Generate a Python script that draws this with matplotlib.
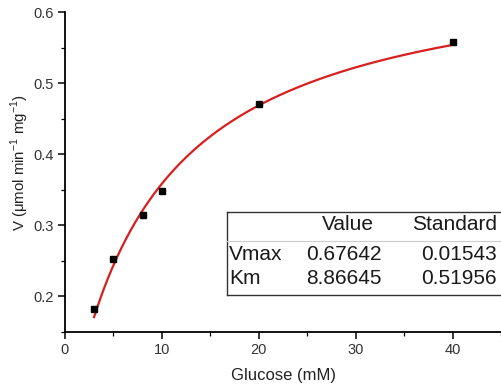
import numpy as np
import matplotlib
matplotlib.use("Agg")
import matplotlib.pyplot as plt
from matplotlib.lines import Line2D
from matplotlib.ticker import MultipleLocator

plt.rcParams['font.family'] = ['Liberation Sans', 'DejaVu Sans']

# Measured initial rates versus glucose concentration
glucose = [3, 5, 8, 10, 20, 40]
rate = [0.182, 0.252, 0.315, 0.348, 0.470, 0.558]

# Michaelis-Menten fit parameters
param_names = ["Vmax", "Km"]
param_values = ["0.67642", "8.86645"]
param_errors = ["0.01543", "0.51956"]
vmax = float(param_values[0])
km = float(param_values[1])

W, H = 502, 391
fig = plt.figure(figsize=(W / 100, H / 100), dpi=100)

def fx(px):
    return px / W

def fy(py):
    return 1 - py / H

ax = fig.add_axes([fx(65), fy(332), fx(501) - fx(65), fy(12) - fy(332)])

s = np.linspace(min(glucose), max(glucose), 300)
ax.plot(s, vmax * s / (km + s), color='#d81e1e', lw=1.6, zorder=2)
ax.plot(glucose, rate, 's', color='black', ms=5, zorder=3)

ax.set_xlim(0, 45)
ax.set_ylim(0.15, 0.6)
ax.xaxis.set_minor_locator(MultipleLocator(5))
ax.yaxis.set_minor_locator(MultipleLocator(0.05))
ax.set_xticks([0, 10, 20, 30, 40])
ax.set_yticks([0.2, 0.3, 0.4, 0.5, 0.6])

for side in ('top', 'right'):
    ax.spines[side].set_visible(False)
for side in ('left', 'bottom'):
    ax.spines[side].set_linewidth(1.3)

ax.tick_params(which='major', direction='out', length=5, width=1.1,
               labelsize=10.5, colors='black', labelcolor='#333333', pad=3)
ax.tick_params(which='minor', direction='out', length=3, width=0.9)

ax.set_xlabel("Glucose (mM)", fontsize=12, color='#222222')
ax.set_ylabel(r"V ($\mathregular{\mu}$mol min$^{\mathregular{-1}}$ mg$^{\mathregular{-1}}$)",
              fontsize=10.8, color='#222222')
ax.xaxis.set_label_coords(0.501, -0.112)
ax.yaxis.set_label_coords(-0.078, 0.53)

# Fit parameter table
x0, x1 = fx(227), fx(501)
ytop, ysep, ybot = fy(212), fy(241), fy(295)
lw = 1.0
fig.add_artist(Line2D([x0, x1], [ytop, ytop], color='#333333', lw=lw))
fig.add_artist(Line2D([x0, x1], [ybot, ybot], color='#333333', lw=lw))
fig.add_artist(Line2D([x0, x0], [ytop, ybot], color='#333333', lw=lw))
fig.add_artist(Line2D([x0, x1], [ysep, ysep], color='#cccccc', lw=0.8))

fs = 15
tc = '#1a1a1a'
fig.text(fx(348), fy(225), "Value", ha='center', va='center', fontsize=fs, color=tc)
fig.text(fx(497), fy(225), "Standard", ha='right', va='center', fontsize=fs, color=tc)
row_y = [fy(255), fy(279)]
for name, val, err, y in zip(param_names, param_values, param_errors, row_y):
    fig.text(fx(229), y, name, ha='left', va='center', fontsize=fs, color=tc)
    fig.text(fx(344), y, val, ha='center', va='center', fontsize=fs, color=tc)
    fig.text(fx(497), y, err, ha='right', va='center', fontsize=fs, color=tc)

fig.savefig("out.png", dpi=100, facecolor='white')
